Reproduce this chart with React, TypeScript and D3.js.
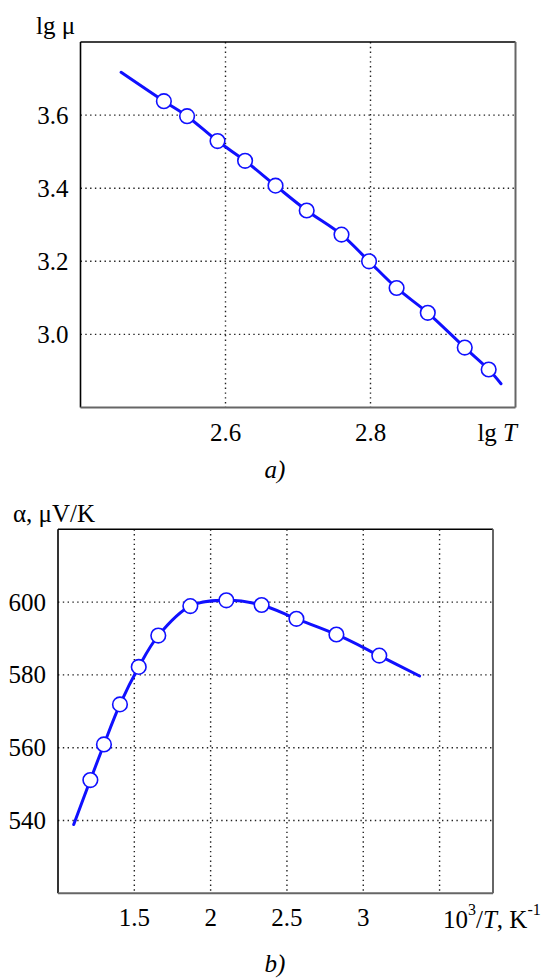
import React from "react";
import * as d3 from "d3";

// ---- Chart a) : lg mu vs lg T ----
const muLgT = [2.515, 2.547, 2.589, 2.627, 2.669, 2.712, 2.76, 2.798, 2.836, 2.879, 2.93, 2.963];
const muLgMu = [3.638, 3.597, 3.529, 3.475, 3.407, 3.339, 3.273, 3.2, 3.127, 3.059, 2.964, 2.904];
const muFitStart = [2.456, 3.717];
const muFitEnd = [2.98, 2.865];
const aXTicks = [2.6, 2.8];
const aYTicks = [3.0, 3.2, 3.4, 3.6];
const aXDomain = [2.4, 3.0];
const aYDomain = [2.8, 3.8];

// ---- Chart b) : alpha vs 10^3/T ----
const alphaInvT = [1.212, 1.301, 1.406, 1.529, 1.657, 1.867, 2.103, 2.334, 2.562, 2.824, 3.105];
const alphaVal = [551.1, 560.9, 571.9, 582.2, 590.8, 598.9, 600.5, 599.2, 595.4, 591.1, 585.3];
const alphaFitStart = [1.103, 538.9];
const alphaFitEnd = [3.369, 579.7];
const bXGrid = [1.5, 2, 2.5, 3, 3.5];
const bXTickLabels = ["1.5", "2", "2.5", "3"];
const bYTicks = [540, 560, 580, 600];
const bXDomain = [1, 3.85];
const bYDomain = [520, 620];

const FONT = "Liberation Serif, Times New Roman, serif";
const BLUE = "#1010ff";
const FS = 25;
const TXT: React.CSSProperties = { fontFamily: FONT, fontSize: FS };

type Pt = [number, number];

function Panel(props: {
  x: d3.ScaleLinear<number, number>;
  y: d3.ScaleLinear<number, number>;
  xGrid: number[];
  yGrid: number[];
  xLabels: { v: number; t: string }[];
  yLabels: { v: number; t: string }[];
  pts: Pt[];
  fit: Pt[];
}) {
  const { x, y, xGrid, yGrid, xLabels, yLabels, pts, fit } = props;
  const [x0, x1] = x.range();
  const [y0, y1] = y.range(); // y0 bottom, y1 top
  const line = d3
    .line<Pt>()
    .x((d) => x(d[0]))
    .y((d) => y(d[1]))
    .curve(d3.curveCatmullRom.alpha(0.5));
  return (
    <g>
      {xGrid.map((v) => (
        <line key={"gx" + v} x1={x(v)} x2={x(v)} y1={y1} y2={y0} stroke="#222" strokeWidth={1.4} strokeDasharray="1.4,3.4" />
      ))}
      {yGrid.map((v) => (
        <line key={"gy" + v} x1={x0} x2={x1} y1={y(v)} y2={y(v)} stroke="#222" strokeWidth={1.4} strokeDasharray="1.4,3.4" />
      ))}
      {/* frame */}
      <line x1={x0} x2={x1} y1={y1} y2={y1} stroke="#000" strokeWidth={1.6} />
      <line x1={x0} x2={x0} y1={y1} y2={y0} stroke="#000" strokeWidth={1.6} />
      <line x1={x1} x2={x1} y1={y1} y2={y0} stroke="#666" strokeWidth={2} />
      <line x1={x0} x2={x1} y1={y0} y2={y0} stroke="#666" strokeWidth={2} />
      <path d={line(fit) || ""} fill="none" stroke={BLUE} strokeWidth={3} strokeLinecap="round" />
      {pts.map((p, i) => (
        <circle key={"p" + i} cx={x(p[0])} cy={y(p[1])} r={7.3} fill="#fff" stroke={BLUE} strokeWidth={1.6} />
      ))}
      {xLabels.map((l) => (
        <text key={"xl" + l.t} x={x(l.v)} y={y0 + 33} textAnchor="middle" style={TXT} fill="#000">
          {l.t}
        </text>
      ))}
      {yLabels.map((l) => (
        <text key={"yl" + l.t} x={x0 - 12} y={y(l.v) + 8.5} textAnchor="end" style={TXT} fill="#000">
          {l.t}
        </text>
      ))}
    </g>
  );
}

export default function App() {
  const ax = d3.scaleLinear().domain(aXDomain).range([80.5, 515.5]);
  const ay = d3.scaleLinear().domain(aYDomain).range([407.5, 42]);
  const aPts: Pt[] = muLgT.map((v, i) => [v, muLgMu[i]]);
  const aFit: Pt[] = [muFitStart as Pt, ...aPts, muFitEnd as Pt];

  const bx = d3.scaleLinear().domain(bXDomain).range([58, 493]);
  const by = d3.scaleLinear().domain(bYDomain).range([893.3, 529.3]);
  const bPts: Pt[] = alphaInvT.map((v, i) => [v, alphaVal[i]]);
  const bFit: Pt[] = [alphaFitStart as Pt, ...bPts, alphaFitEnd as Pt];

  return (
    <svg width={547} height={978} style={{ position: "absolute", left: 0, top: 0, background: "#fff" }}>
      <rect width={547} height={978} fill="#fff" />
      <Panel
        x={ax}
        y={ay}
        xGrid={aXTicks}
        yGrid={aYTicks}
        xLabels={aXTicks.map((v) => ({ v, t: v.toFixed(1) }))}
        yLabels={aYTicks.map((v) => ({ v, t: v.toFixed(1) }))}
        pts={aPts}
        fit={aFit}
      />
      <text x={36} y={34} style={TXT} fill="#000">
        lg μ
      </text>
      <text x={517} y={441} textAnchor="end" style={TXT} fill="#000">
        lg <tspan fontStyle="italic">T</tspan>
      </text>
      <text x={275} y={478} textAnchor="middle" style={TXT} fontStyle="italic" fill="#000">
        a)
      </text>

      <Panel
        x={bx}
        y={by}
        xGrid={bXGrid}
        yGrid={bYTicks}
        xLabels={bXTickLabels.map((t) => ({ v: +t, t }))}
        yLabels={bYTicks.map((v) => ({ v, t: String(v) }))}
        pts={bPts}
        fit={bFit}
      />
      <text x={13} y={522} style={TXT} fill="#000">
        α, μV/K
      </text>
      <text x={443} y={928} style={TXT} fill="#000">
        10<tspan dy={-13} style={{ fontSize: 16 }}>3</tspan>
        <tspan dy={13}>/</tspan>
        <tspan fontStyle="italic">T</tspan>, K<tspan dy={-13} style={{ fontSize: 16 }}>-1</tspan>
      </text>
      <text x={275} y={972} textAnchor="middle" style={TXT} fontStyle="italic" fill="#000">
        b)
      </text>
    </svg>
  );
}
